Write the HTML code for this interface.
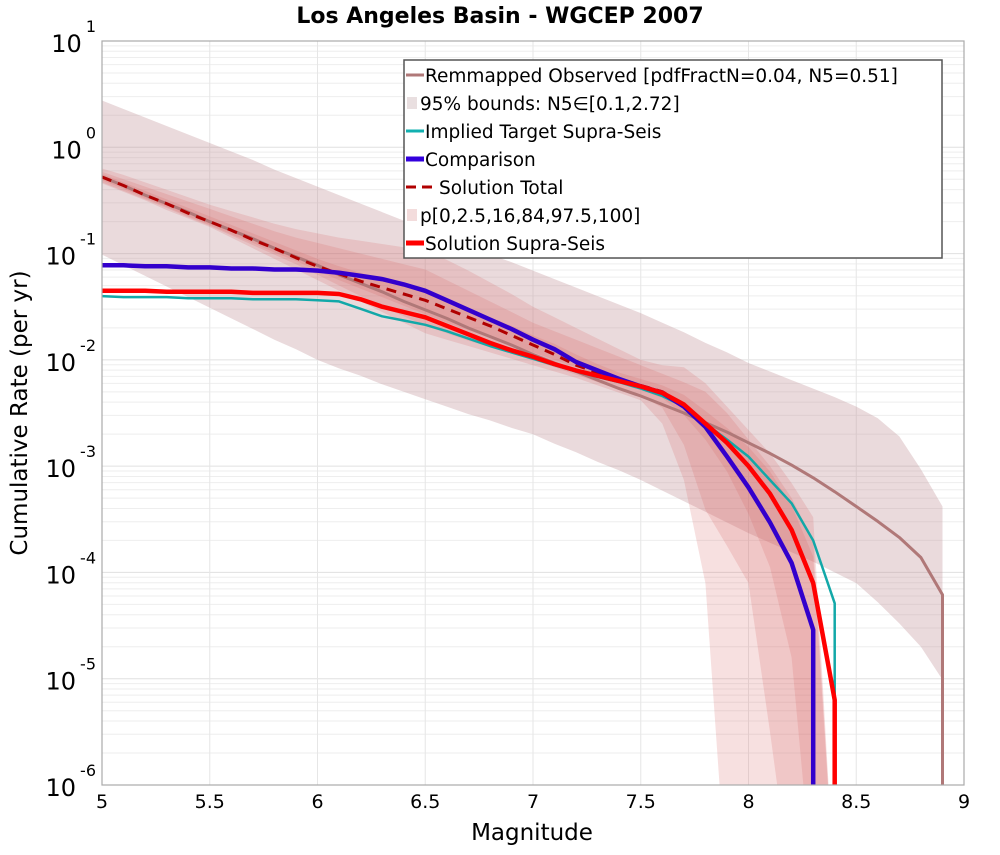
<!DOCTYPE html>
<html><head><meta charset="utf-8"><style>
body{margin:0;background:#fff;}
svg text{font-family:"DejaVu Sans","Liberation Sans",sans-serif;}
</style></head><body>
<svg id="chart" width="1000" height="850" viewBox="0 0 1000 850" xmlns="http://www.w3.org/2000/svg">
<defs><clipPath id="clip"><rect x="102" y="41" width="862" height="744"/></clipPath></defs>
<rect width="1000" height="850" fill="#fff"/>
<text x="500" y="23" text-anchor="middle" font-size="22" font-weight="bold">Los Angeles Basin - WGCEP 2007</text>
<g id="grid"></g>
<g id="bands" clip-path="url(#clip)"></g>
<g id="lines" clip-path="url(#clip)"></g>
<rect x="102" y="41" width="862" height="744" fill="none" stroke="#aaa" stroke-width="1.2"/>
<g id="axes"></g>
<text x="532" y="840" text-anchor="middle" font-size="23">Magnitude</text>
<text transform="translate(27,413) rotate(-90)" text-anchor="middle" font-size="23">Cumulative Rate (per yr)</text>
<g id="legend"></g>
</svg>
<script>
const mags=[5.0,5.1,5.2,5.3,5.4,5.5,5.6,5.7,5.8,5.9,6.0,6.1,6.2,6.3,6.4,6.5,6.6,6.7,6.8,6.9,7.0,7.1,7.2,7.3,7.4,7.5,7.6,7.7,7.8,7.9,8.0,8.1,8.2,8.3,8.4,8.5,8.6,8.7,8.8,8.9];
const N=null;
const observed=[-0.28,-0.36,-0.45,-0.53,-0.61,-0.70,-0.78,-0.86,-0.95,-1.03,-1.11,-1.20,-1.28,-1.36,-1.45,-1.53,-1.61,-1.70,-1.78,-1.86,-1.95,-2.03,-2.11,-2.19,-2.27,-2.34,-2.42,-2.50,-2.59,-2.68,-2.78,-2.88,-2.99,-3.11,-3.24,-3.38,-3.52,-3.67,-3.86,-4.21];
const hi95=[0.44,0.36,0.28,0.20,0.12,0.04,-0.04,-0.12,-0.21,-0.29,-0.37,-0.45,-0.53,-0.61,-0.69,-0.77,-0.85,-0.93,-1.01,-1.08,-1.16,-1.24,-1.32,-1.40,-1.48,-1.56,-1.65,-1.74,-1.84,-1.93,-2.03,-2.11,-2.19,-2.27,-2.35,-2.44,-2.55,-2.72,-3.03,-3.38];
const lo95=[-1.01,-1.11,-1.21,-1.31,-1.41,-1.51,-1.61,-1.71,-1.81,-1.90,-2.00,-2.08,-2.15,-2.23,-2.30,-2.37,-2.44,-2.51,-2.57,-2.64,-2.70,-2.79,-2.87,-2.96,-3.04,-3.13,-3.23,-3.33,-3.43,-3.53,-3.63,-3.72,-3.81,-3.90,-4.00,-4.10,-4.28,-4.48,-4.70,-5.01];
const implied=[-1.40,-1.41,-1.41,-1.41,-1.42,-1.42,-1.42,-1.43,-1.43,-1.43,-1.44,-1.45,-1.52,-1.59,-1.63,-1.67,-1.73,-1.80,-1.87,-1.93,-1.99,-2.05,-2.11,-2.16,-2.21,-2.27,-2.34,-2.44,-2.60,-2.75,-2.91,-3.13,-3.35,-3.70,-4.29,N,N,N,N,N];
const comparison=[-1.11,-1.11,-1.12,-1.12,-1.13,-1.13,-1.14,-1.14,-1.15,-1.15,-1.16,-1.18,-1.21,-1.24,-1.29,-1.35,-1.44,-1.53,-1.62,-1.71,-1.81,-1.90,-2.02,-2.10,-2.18,-2.25,-2.31,-2.44,-2.63,-2.91,-3.20,-3.53,-3.91,-4.54,N,N,N,N,N,N];
const total=[-0.28,-0.36,-0.45,-0.53,-0.62,-0.70,-0.78,-0.87,-0.95,-1.04,-1.12,-1.19,-1.26,-1.32,-1.38,-1.44,-1.52,-1.60,-1.68,-1.77,-1.86,-1.95,-2.05,-2.12,-2.18,-2.24,-2.30,-2.42,-2.60,-2.78,-3.00,-3.26,-3.60,-4.10,-5.20,N,N,N,N,N];
const supra=[-1.35,-1.35,-1.35,-1.36,-1.36,-1.36,-1.36,-1.37,-1.37,-1.37,-1.37,-1.38,-1.43,-1.50,-1.55,-1.60,-1.68,-1.76,-1.84,-1.91,-1.97,-2.04,-2.10,-2.15,-2.20,-2.25,-2.31,-2.42,-2.60,-2.78,-3.00,-3.26,-3.60,-4.10,-5.20,N,N,N,N,N];
const p100=[-0.20,-0.26,-0.33,-0.40,-0.47,-0.54,-0.60,-0.66,-0.72,-0.77,-0.81,-0.85,-0.88,-0.91,-0.94,-0.97,-1.06,-1.16,-1.27,-1.38,-1.50,-1.60,-1.70,-1.80,-1.90,-2.00,-2.05,-2.07,-2.22,-2.44,-2.66,-2.88,-3.16,-3.48,N,N,N,N,N,N];
const p0=[-0.34,-0.42,-0.50,-0.59,-0.67,-0.75,-0.85,-0.95,-1.05,-1.15,-1.25,-1.35,-1.45,-1.55,-1.65,-1.75,-1.81,-1.87,-1.93,-1.99,-2.05,-2.11,-2.17,-2.24,-2.31,-2.38,-2.60,-3.13,-4.10,N,N,N,N,N,N,N,N,N,N,N];
const p97=[-0.23,-0.30,-0.37,-0.44,-0.51,-0.58,-0.65,-0.72,-0.79,-0.85,-0.90,-0.95,-1.00,-1.05,-1.10,-1.15,-1.25,-1.35,-1.45,-1.55,-1.65,-1.73,-1.81,-1.89,-1.97,-2.05,-2.13,-2.21,-2.30,-2.50,-2.75,-3.00,-3.30,-3.70,N,N,N,N,N,N];
const p2=[-0.33,-0.41,-0.49,-0.57,-0.66,-0.74,-0.83,-0.92,-1.01,-1.10,-1.20,-1.30,-1.40,-1.50,-1.59,-1.68,-1.75,-1.82,-1.88,-1.94,-2.00,-2.07,-2.14,-2.21,-2.28,-2.34,-2.45,-2.80,-3.41,-3.75,-4.10,-5.50,N,N,N,N,N,N,N,N];
const p84=[-0.25,-0.33,-0.41,-0.49,-0.57,-0.65,-0.73,-0.81,-0.89,-0.97,-1.05,-1.12,-1.18,-1.24,-1.30,-1.36,-1.44,-1.52,-1.60,-1.68,-1.77,-1.85,-1.95,-2.04,-2.12,-2.18,-2.24,-2.33,-2.48,-2.64,-2.82,-3.05,-3.37,-3.85,N,N,N,N,N,N];
const p16=[-0.31,-0.39,-0.48,-0.56,-0.65,-0.73,-0.82,-0.90,-0.99,-1.07,-1.16,-1.25,-1.33,-1.41,-1.49,-1.57,-1.65,-1.72,-1.79,-1.86,-1.93,-2.00,-2.07,-2.14,-2.21,-2.28,-2.36,-2.52,-2.75,-3.05,-3.45,-3.95,-4.80,N,N,N,N,N,N,N];
const xTicks=[5,5.5,6,6.5,7,7.5,8,8.5,9];
const yExps=[1,0,-1,-2,-3,-4,-5,-6];

const NS="http://www.w3.org/2000/svg";
const X0=102,X1=964,Y0=41,Y1=785,XMIN=5,XMAX=9,YMAX=1,YMIN=-6;
const xs=m=>X0+(m-XMIN)/(XMAX-XMIN)*(X1-X0);
const ys=l=>Y0+(YMAX-l)/(YMAX-YMIN)*(Y1-Y0);
const BOT=-7;
function mk(tag,attrs,parent){const e=document.createElementNS(NS,tag);for(const k in attrs)e.setAttribute(k,attrs[k]);parent.appendChild(e);return e;}
const grid=document.getElementById('grid'),axes=document.getElementById('axes');
// minor grid
for(let e=YMIN;e<YMAX;e++){for(let k=2;k<=9;k++){const y=ys(e+Math.log10(k));
const l=mk('line',{x1:X0,x2:X1,y1:y,y2:y,stroke:'#eeeeee','stroke-width':1},grid);

}}
yExps.forEach(e=>{const y=ys(e);
const l=mk('line',{x1:X0,x2:X1,y1:y,y2:y,stroke:'#e0e0e0','stroke-width':1},grid);


const t=mk('text',{x:96,y:y+11,'text-anchor':'end','font-size':24},axes);


const b=document.createElementNS(NS,'tspan');b.textContent='10';t.appendChild(b);
const s=document.createElementNS(NS,'tspan');s.setAttribute('font-size','16');s.setAttribute('dy','-20');s.setAttribute('dx','4');s.textContent=String(e);t.appendChild(s);
});
xTicks.forEach(m=>{const x=xs(m);
const l=mk('line',{x1:x,x2:x,y1:Y0,y2:Y1,stroke:'#e6e6e6','stroke-width':1},grid);


const t=mk('text',{x:x,y:808,'text-anchor':'middle','font-size':19},axes);


t.textContent=String(m);});
const v=a=>a.map(q=>q===null?BOT:q);
function band(hi,lo,fill,op,name){
 const H=v(hi),L=v(lo);let d='';
 mags.forEach((m,i)=>{d+=(i?'L':'M')+xs(m).toFixed(1)+','+ys(H[i]).toFixed(1);});
 for(let i=mags.length-1;i>=0;i--)d+='L'+xs(mags[i]).toFixed(1)+','+ys(L[i]).toFixed(1);
 const p=mk('path',{d:d+'Z',fill:fill,'fill-opacity':op,stroke:'none'},document.getElementById('bands'));
 
 
}
band(hi95,lo95,'rgb(190,140,145)',0.32,'observed-95-band');
band(p100,p0,'rgb(215,100,100)',0.2,'band-p0-p100');
band(p97,p2,'rgb(215,100,100)',0.2,'band-p2.5-p97.5');
band(p84,p16,'rgb(215,100,100)',0.2,'band-p16-p84');
function line(arr,color,w,name,dash,dropLast){
 let d='',lx=0,n=0;
 mags.forEach((m,i)=>{if(arr[i]===null)return;lx=xs(m);d+=(n?'L':'M')+lx.toFixed(1)+','+ys(arr[i]).toFixed(1);n++;});
 d+='L'+lx.toFixed(1)+','+(Y1+10);
 const a={d:d,fill:'none',stroke:color,'stroke-width':w,'stroke-linejoin':'round'};
 if(dash)a['stroke-dasharray']=dash;
 const p=mk('path',a,document.getElementById('lines'));
 
 
}
line(observed,'#b07878',3,'remapped-observed-line');
line(implied,'#12a8a8',2.5,'implied-target-line');
line(total,'#b00000',3,'solution-total-line','10,7');
line(comparison,'#3300cc',4.5,'comparison-line');
line(supra,'#ff0000',4.5,'solution-supra-line');
// legend
const lg=document.getElementById('legend');
const r=mk('rect',{x:404,y:60,width:538,height:198,fill:'#fff',stroke:'#555','stroke-width':1.5},lg);


const items=[
 ['line','#b07878',3,'Remmapped Observed [pdfFractN=0.04, N5=0.51]'],
 ['box','#e9dfe0',0,'95% bounds: N5∈[0.1,2.72]'],
 ['line','#12b0b0',3,'Implied Target Supra-Seis'],
 ['line','#3300dd',5,'Comparison'],
 ['dash','#b00000',3,'Solution Total'],
 ['box','#f3dcdc',0,'p[0,2.5,16,84,97.5,100]'],
 ['line','#ff0000',5,'Solution Supra-Seis']];
items.forEach((it,i)=>{const y=75+i*28;
 const g=mk('g',{},lg);
 
 
 let tx=425;
 if(it[0]==='box'){mk('rect',{x:407,y:y-6,width:10,height:12,fill:it[1]},g);tx=420;}
 else if(it[0]==='dash'){mk('line',{x1:406,x2:436,y1:y,y2:y,stroke:it[1],'stroke-width':it[2],'stroke-dasharray':'10,6'},g);tx=439;}
 else mk('line',{x1:406,x2:424,y1:y,y2:y,stroke:it[1],'stroke-width':it[2]},g);
 const t=mk('text',{x:tx,y:y+7,'font-size':18.5,fill:'#000'},g);t.textContent=it[3];
});
</script>
</body></html>
